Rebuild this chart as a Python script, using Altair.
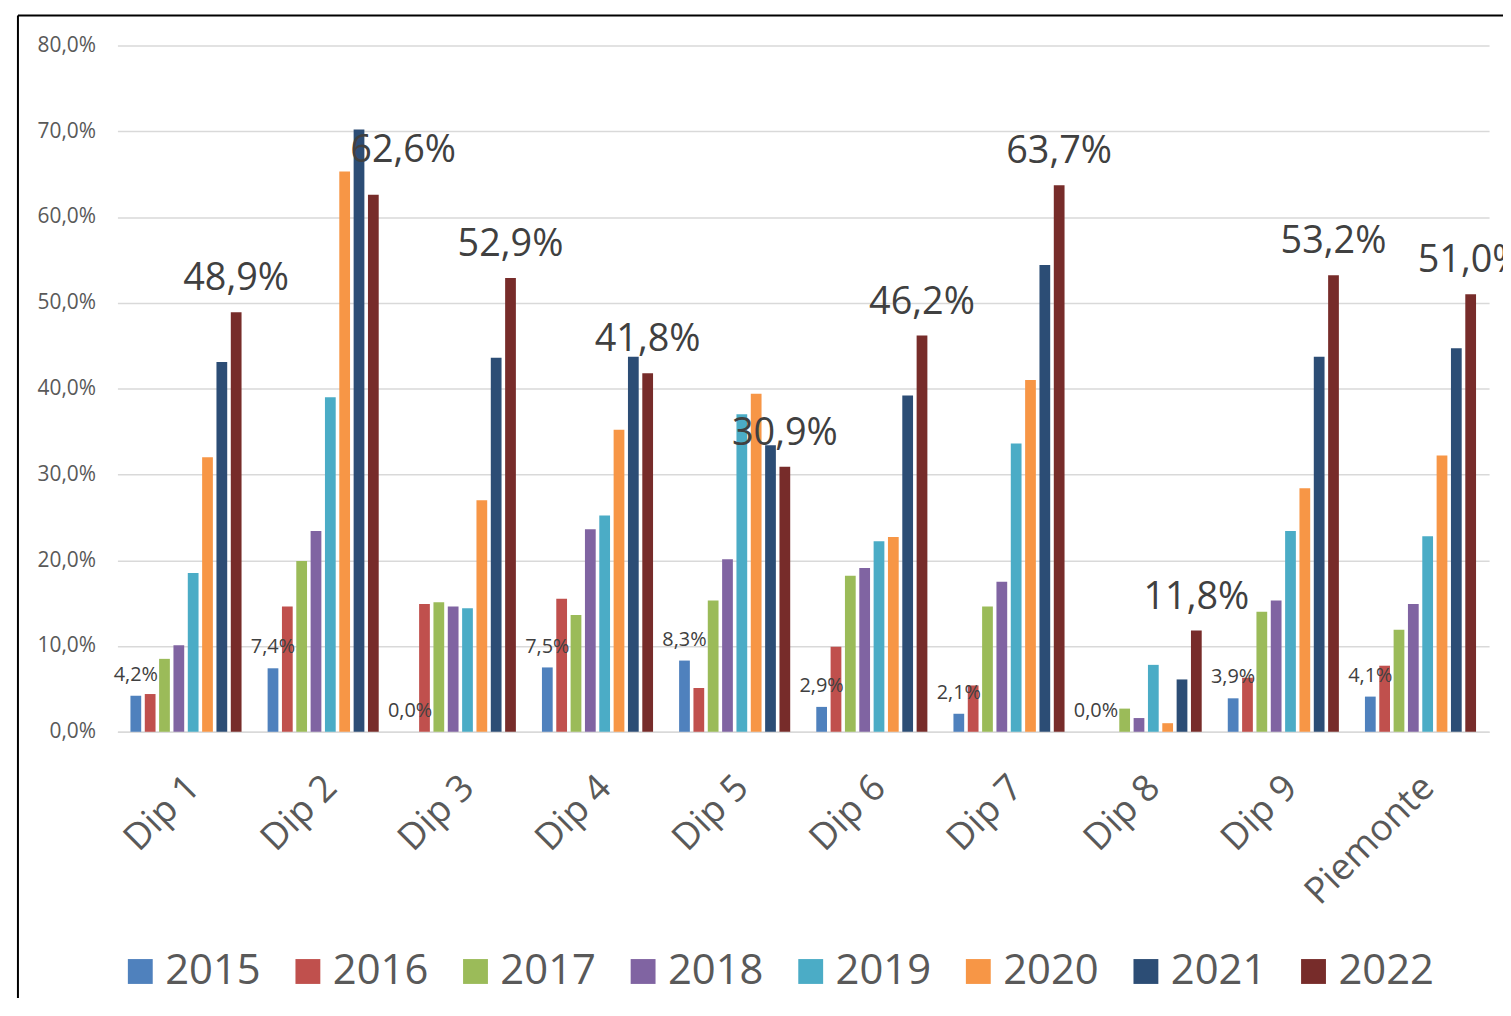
import altair as alt
import pandas as pd

categories = ["Dip 1", "Dip 2", "Dip 3", "Dip 4", "Dip 5", "Dip 6", "Dip 7", "Dip 8", "Dip 9", "Piemonte"]
years = ["2015", "2016", "2017", "2018", "2019", "2020", "2021", "2022"]

v2015 = [4.2, 7.4, 0.0, 7.5, 8.3, 2.9, 2.1, 0.0, 3.9, 4.1]
v2016 = [4.4, 14.6, 14.9, 15.5, 5.1, 9.9, 5.4, 0.0, 6.3, 7.7]
v2017 = [8.5, 19.9, 15.1, 13.6, 15.3, 18.2, 14.6, 2.7, 14.0, 11.9]
v2018 = [10.1, 23.4, 14.6, 23.6, 20.1, 19.1, 17.5, 1.6, 15.3, 14.9]
v2019 = [18.5, 39.0, 14.4, 25.2, 37.0, 22.2, 33.6, 7.8, 23.4, 22.8]
v2020 = [32.0, 65.3, 27.0, 35.2, 39.4, 22.7, 41.0, 1.0, 28.4, 32.2]
v2021 = [43.1, 70.2, 43.6, 43.7, 33.4, 39.2, 54.4, 6.1, 43.7, 44.7]
v2022 = [48.9, 62.6, 52.9, 41.8, 30.9, 46.2, 63.7, 11.8, 53.2, 51.0]

colors = ["#4F81BD", "#C0504D", "#9BBB59", "#8064A2", "#4BACC6", "#F79646", "#2C4D75", "#772C2A"]

series = dict(zip(years, [v2015, v2016, v2017, v2018, v2019, v2020, v2021, v2022]))
rows = []
for yr in years:
    for c, v in zip(categories, series[yr]):
        rows.append({"category": c, "year": yr, "value": v})
df = pd.DataFrame(rows)

W, H = 1379, 690
FONT = "Open Sans"
LBL = "replace(format(datum.value, '.1f'), '.', ',') + '%'"

x = alt.X(
    "category:N",
    sort=categories,
    scale=alt.Scale(paddingInner=0.19, paddingOuter=0.095),
    axis=alt.Axis(
        title=None, labelAngle=-45, labelAlign="right", labelBaseline="middle",
        labelFontSize=37, labelColor="#595959", labelFont=FONT, ticks=False,
        domainColor="#D9D9D9", domainWidth=1.5, labelPadding=50, labelOffset=8,
    ),
)
xo = alt.XOffset("year:N", sort=years, scale=alt.Scale(domain=years, paddingInner=0.25))
y = alt.Y(
    "value:Q",
    scale=alt.Scale(domain=[0, 80], nice=False),
    axis=alt.Axis(
        title=None, values=list(range(0, 81, 10)), labelExpr=LBL,
        labelFontSize=21, labelColor="#595959", labelFont=FONT, ticks=False,
        domain=False, gridColor="#D9D9D9", gridWidth=1.5, labelPadding=22,
    ),
)

base = alt.Chart(df)

bars = base.mark_bar().encode(
    x=x, xOffset=xo, y=y,
    color=alt.Color(
        "year:N",
        scale=alt.Scale(domain=years, range=colors),
        legend=alt.Legend(
            title=None, orient="none", legendX=2, legendY=910, direction="horizontal",
            columns=8, symbolType="square", symbolSize=625, symbolStrokeWidth=0,
            labelFontSize=42, labelColor="#595959", labelFont=FONT,
            columnPadding=25.5, labelOffset=4, padding=0,
        ),
    ),
)

small = base.transform_filter("datum.year == '2015'").transform_calculate(
    label=LBL
).mark_text(fontSize=20, font=FONT, color="#404040", baseline="alphabetic", dy=-15).encode(
    x=x, xOffset=xo, y=y, text="label:N"
)

big = base.transform_filter("datum.year == '2022' && datum.category != 'Dip 2'").transform_calculate(
    label=LBL
).mark_text(fontSize=38, font=FONT, color="#404040", baseline="alphabetic", dy=-22).encode(
    x=x, xOffset=xo, y=y, text="label:N"
)

big2 = base.transform_filter("datum.year == '2022' && datum.category == 'Dip 2'").transform_calculate(
    label=LBL
).mark_text(fontSize=38, font=FONT, color="#404040", baseline="alphabetic", dx=30, dy=-33).encode(
    x=x, xOffset=xo, y=y, text="label:N"
)

frame_data = alt.Data(values=[{"f": 1}])
top_rule = alt.Chart(frame_data).mark_rule(color="black", strokeWidth=2).encode(
    x=alt.value(-100), x2=alt.value(W + 40), y=alt.value(-30)
)
left_rule = alt.Chart(frame_data).mark_rule(color="black", strokeWidth=2).encode(
    x=alt.value(-100), y=alt.value(-30), y2=alt.value(H + 400)
)

chart = alt.layer(bars, small, big, big2, top_rule, left_rule).properties(
    width=W, height=H,
    padding={"left": 110, "top": 35, "right": 14, "bottom": 265},
    autosize=alt.AutoSizeParams(type="none"),
    background="white",
).configure_view(stroke=None)

chart.save("out.html", embed_options={"renderer": "svg", "actions": False})
